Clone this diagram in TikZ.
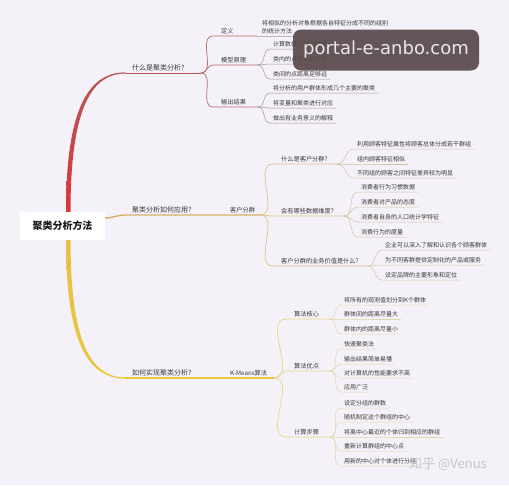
\documentclass[tikz,border=0pt]{standalone}
\usepackage{fontspec}
\setmainfont{Noto Sans CJK SC}
\newfontfamily\wmfont{DejaVu Sans}
\usepackage{xcolor}
\usepackage{tikz}
\usetikzlibrary{calc}
\definecolor{bgpaper}{HTML}{F4F2F8}
\definecolor{inkgray}{HTML}{3A3838}
\definecolor{redbot}{HTML}{D8383A}
\definecolor{redtop}{HTML}{B85656}
\definecolor{redsub}{HTML}{B86A6A}
\definecolor{redleaf}{HTML}{A09494}
\definecolor{tanmain}{HTML}{D6B06A}
\definecolor{tansub}{HTML}{DCC08A}
\definecolor{tanleaf}{HTML}{D2C2A2}
\definecolor{yelmain}{HTML}{EAC73A}
\definecolor{yeltop}{HTML}{E4C04A}
\definecolor{yelsub}{HTML}{E6D488}
\definecolor{yelleaf}{HTML}{E0D6AC}
\definecolor{wmbox}{HTML}{5A4A4C}
\tikzset{
  rootbox/.style={fill=white, minimum width=85pt, minimum height=28pt,
    font=\fontsize{10}{12}\selectfont\bfseries, text=black!90},
  hdr/.style={anchor=south west, inner xsep=7pt, inner ysep=1.5pt,
    font=\fontsize{7}{8}\selectfont, text=inkgray},
  sub/.style={hdr, inner xsep=8pt, font=\fontsize{6.2}{7.5}\selectfont},
  leaf/.style={anchor=south west, inner xsep=3pt, inner ysep=1.5pt, align=left,
    font=\fontsize{6}{8}\selectfont, text=inkgray},
  rmain/.style={draw=redtop, line width=0.9pt},
  rflow/.style={draw=redsub, line width=0.7pt},
  rleaf/.style={draw=redleaf, line width=0.5pt},
  tmain/.style={draw=tanmain, line width=1.4pt},
  tflow/.style={draw=tansub, line width=0.7pt},
  tleaf/.style={draw=tanleaf, line width=0.5pt},
  ymain/.style={draw=yelmain, line width=1.2pt},
  yflow/.style={draw=yelsub, line width=0.7pt},
  yleaf/.style={draw=yelleaf, line width=0.5pt}
}

\begin{document}
\begin{tikzpicture}[x=1pt, y=-1pt]
  \useasboundingbox (0,0) rectangle (509,485);
  \fill[bgpaper] (0,0) rectangle (509,485);

  % root and main headers
  \node[rootbox] (root) at (62.5,226) {聚类分析方法};
  \node[hdr] (whatis) at (125,73) {什么是聚类分析?};
  \node[hdr] (apply) at (125,215) {聚类分析如何应用?};
  \node[hdr] (howdo) at (125,378) {如何实现聚类分析?};
  \node[sub] (cust) at (222,215) {客户分群};
  \node[sub] (kmeans) at (222,378) {K-Means算法};
  \coordinate (sA) at (201,73);
  \coordinate (sB) at (260,215);
  \coordinate (sC) at (274,378);

  \shade[top color=redtop, bottom color=redbot]
    ([xshift=3.5pt]root.north) .. controls +(0,-95) and +(-40,0) .. ([yshift=0.6pt]whatis.south west)
    -- ([yshift=-0.6pt]whatis.south west) .. controls +(-37,0) and +(0,-95) .. ([xshift=8pt]root.north) -- cycle;
  \draw[rmain] (whatis.south west) -- (sA);
  \draw[tmain] ([yshift=8pt]root.east) to[out=0,in=180] (apply.south west) -- (cust.south west) -- (sB);
  \shade[top color=yeltop, bottom color=yelmain]
    ([xshift=3.5pt]root.south) .. controls +(0,95) and +(-40,0) .. ([yshift=-0.6pt]howdo.south west)
    -- ([yshift=0.6pt]howdo.south west) .. controls +(-37,0) and +(0,95) .. ([xshift=8pt]root.south) -- cycle;
  \draw[ymain] (howdo.south west) -- (kmeans.south west) -- (sC);

  % what is clustering
  \node[sub] (defn) at (213,36) {定义};
  \coordinate (sDef) at (257,36);
  \draw[rflow] (sA) to[out=0,in=180] (defn.south west) -- (sDef);
  \node[leaf] (defl) at (259,36) {将相似的分析对象根据各自特征分成不同的组别\\的统计方法};
  \draw[rleaf] (sDef) -- (defl.south west) -- (defl.south east);

  \node[sub] (model) at (213,65) {模型原理};
  \coordinate (sModel) at (258,65);
  \draw[rflow] (sA) to[out=0,in=180] (model.south west) -- (sModel);
  \node[leaf] (m1) at (270,49) {计算数据之间的距离};
  \node[leaf] (m2) at (270,64) {类内的点距离足够近};
  \node[leaf] (m3) at (270,79) {类间的点距离足够远};
  \draw[rleaf] (sModel) to[out=0,in=180] (m1.south west) -- (m1.south east);
  \draw[rleaf] (sModel) to[out=0,in=180] (m2.south west) -- (m2.south east);
  \draw[rleaf] (sModel) to[out=0,in=180] (m3.south west) -- (m3.south east);

  \node[sub] (outp) at (213,107) {输出结果};
  \coordinate (sOut) at (258,107);
  \draw[rflow] (sA) to[out=0,in=180] (outp.south west) -- (sOut);
  \node[leaf] (o1) at (270,93) {将分析的用户群体形成几个主要的聚类};
  \node[leaf] (o2) at (270,108) {将变量和聚类进行对应};
  \node[leaf] (o3) at (270,123) {做出有业务意义的解释};
  \draw[rleaf] (sOut) to[out=0,in=180] (o1.south west) -- (o1.south east);
  \draw[rleaf] (sOut) to[out=0,in=180] (o2.south west) -- (o2.south east);
  \draw[rleaf] (sOut) to[out=0,in=180] (o3.south west) -- (o3.south east);

  % customer segmentation
  \node[sub] (cwhat) at (273,164) {什么是客户分群?};
  \coordinate (sCw) at (337,164);
  \draw[tflow] (sB) to[out=0,in=180] (cwhat.south west) -- (sCw);
  \node[leaf] (w1) at (354,149) {利用顾客特征属性将顾客总体分成若干群组};
  \node[leaf] (w2) at (354,164) {组内顾客特征相似};
  \node[leaf] (w3) at (354,178) {不同组的顾客之间特征差异较为明显};
  \draw[tleaf] (sCw) to[out=0,in=180] (w1.south west) -- (w1.south east);
  \draw[tleaf] (sCw) to[out=0,in=180] (w2.south west) -- (w2.south east);
  \draw[tleaf] (sCw) to[out=0,in=180] (w3.south west) -- (w3.south east);

  \node[sub] (cdim) at (273,216) {会有哪些数据维度?};
  \coordinate (sCd) at (344,216);
  \draw[tflow] (sB) to[out=0,in=180] (cdim.south west) -- (sCd);
  \node[leaf] (d1) at (358,192) {消费者行为习惯数据};
  \node[leaf] (d2) at (358,207) {消费者对产品的态度};
  \node[leaf] (d3) at (358,222) {消费者自身的人口统计学特征};
  \node[leaf] (d4) at (358,237) {消费行为的度量};
  \draw[tleaf] (sCd) to[out=0,in=180] (d1.south west) -- (d1.south east);
  \draw[tleaf] (sCd) to[out=0,in=180] (d2.south west) -- (d2.south east);
  \draw[tleaf] (sCd) to[out=0,in=180] (d3.south west) -- (d3.south east);
  \draw[tleaf] (sCd) to[out=0,in=180] (d4.south west) -- (d4.south east);

  \node[sub] (cval) at (273,266) {客户分群的业务价值是什么?};
  \coordinate (sCv) at (368,266);
  \draw[tflow] (sB) to[out=0,in=180] (cval.south west) -- (sCv);
  \node[leaf] (v1) at (382,250) {企业可以深入了解和认识各个顾客群体};
  \node[leaf] (v2) at (382,265) {为不同客群提供定制化的产品或服务};
  \node[leaf] (v3) at (382,280) {设定品牌的主要形象和定位};
  \draw[tleaf] (sCv) to[out=0,in=180] (v1.south west) -- (v1.south east);
  \draw[tleaf] (sCv) to[out=0,in=180] (v2.south west) -- (v2.south east);
  \draw[tleaf] (sCv) to[out=0,in=180] (v3.south west) -- (v3.south east);

  % k-means
  \node[sub] (kcore) at (286,319) {算法核心};
  \coordinate (sKc) at (330,319);
  \draw[yflow] (sC) to[out=0,in=180] (kcore.south west) -- (sKc);
  \node[leaf] (c1) at (341,305) {将所有的观测值划分到K个群体};
  \node[leaf] (c2) at (341,319) {群体间的距离尽量大};
  \node[leaf] (c3) at (341,334) {群体内的距离尽量小};
  \draw[yleaf] (sKc) to[out=0,in=180] (c1.south west) -- (c1.south east);
  \draw[yleaf] (sKc) to[out=0,in=180] (c2.south west) -- (c2.south east);
  \draw[yleaf] (sKc) to[out=0,in=180] (c3.south west) -- (c3.south east);

  \node[sub] (kpro) at (286,371) {算法优点};
  \coordinate (sKp) at (330,371);
  \draw[yflow] (sC) to[out=0,in=180] (kpro.south west) -- (sKp);
  \node[leaf] (p1) at (341,349) {快速聚类法};
  \node[leaf] (p2) at (341,364) {输出结果简单易懂};
  \node[leaf] (p3) at (341,378) {对计算机的性能要求不高};
  \node[leaf] (p4) at (341,392) {应用广泛};
  \draw[yleaf] (sKp) to[out=0,in=180] (p1.south west) -- (p1.south east);
  \draw[yleaf] (sKp) to[out=0,in=180] (p2.south west) -- (p2.south east);
  \draw[yleaf] (sKp) to[out=0,in=180] (p3.south west) -- (p3.south east);
  \draw[yleaf] (sKp) to[out=0,in=180] (p4.south west) -- (p4.south east);

  \node[sub] (ksteps) at (286,437) {计算步骤};
  \coordinate (sKs) at (330,437);
  \draw[yflow] (sC) to[out=0,in=180] (ksteps.south west) -- (sKs);
  \node[leaf] (t1) at (341,408) {设定分组的群数};
  \node[leaf] (t2) at (341,422) {随机制定这个群组的中心};
  \node[leaf] (t3) at (341,437) {将离中心最近的个体归到相应的群组};
  \node[leaf] (t4) at (341,451) {重新计算群组的中心点};
  \node[leaf] (t5) at (341,466) {用新的中心对个体进行分组};
  \draw[yleaf] (sKs) to[out=0,in=180] (t1.south west) -- (t1.south east);
  \draw[yleaf] (sKs) to[out=0,in=180] (t2.south west) -- (t2.south east);
  \draw[yleaf] (sKs) to[out=0,in=180] (t3.south west) -- (t3.south east);
  \draw[yleaf] (sKs) to[out=0,in=180] (t4.south west) -- (t4.south east);
  \draw[yleaf] (sKs) to[out=0,in=180] (t5.south west) -- (t5.south east);

  % watermarks
  \node[fill=wmbox, fill opacity=0.93, text opacity=1, rounded corners=8pt,
    minimum width=186pt, minimum height=41pt, text=white!88!wmbox,
    font=\wmfont\fontsize{18}{20}\selectfont] (wmark) at (386,50) {portal-e-anbo.com};
  \node[text=white!78!black, font=\fontsize{13}{15}\selectfont] (zhihu) at (448,464) {知乎 @Venus};
\end{tikzpicture}
\end{document}
